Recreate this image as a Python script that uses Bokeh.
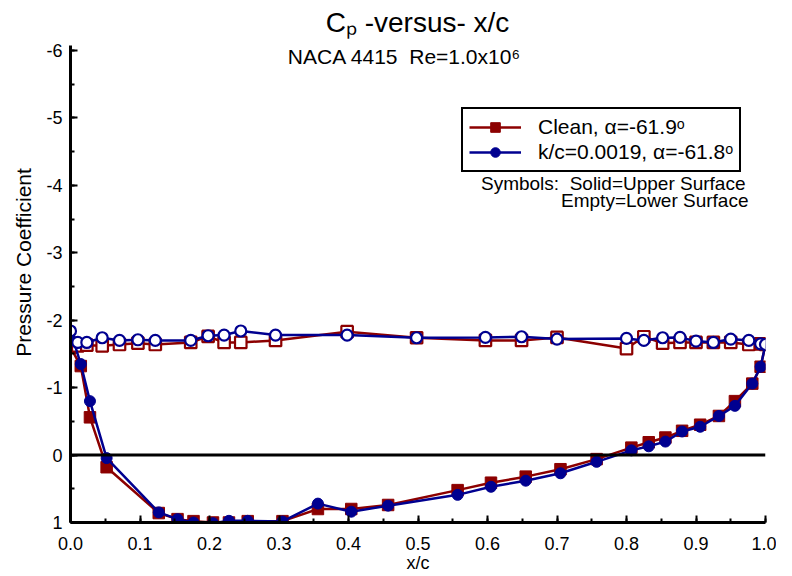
import numpy as np
from bokeh.plotting import figure
from bokeh.models import (Range1d, SingleIntervalTicker, NumeralTickFormatter, Span,
                          Label, Legend, LegendItem)
from bokeh.embed import file_html
from bokeh.resources import INLINE

# ---- data ----
upper_x = [0.0148, 0.028, 0.052, 0.127, 0.154, 0.177, 0.205, 0.228, 0.255, 0.305,
           0.356, 0.404, 0.457, 0.557, 0.605, 0.655, 0.705, 0.757, 0.807, 0.832,
           0.856, 0.880, 0.906, 0.933, 0.956, 0.981, 0.993]
clean_upper = [-1.32, -0.56, 0.18, 0.86, 0.95, 0.98, 1.00, 1.00, 0.98, 0.98,
               0.80, 0.80, 0.74, 0.52, 0.41, 0.32, 0.21, 0.06, -0.11, -0.19,
               -0.26, -0.36, -0.45, -0.58, -0.80, -1.06, -1.31]
rough_upper = [-1.35, -0.80, 0.045, 0.85, 0.95, 1.00, 1.01, 0.975, 0.975, 0.985,
               0.72, 0.84, 0.75, 0.59, 0.47, 0.38, 0.27, 0.10, -0.07, -0.13,
               -0.20, -0.35, -0.42, -0.58, -0.73, -1.06, -1.31]

lower_x = [0.0, 0.0105, 0.0235, 0.0456, 0.0705, 0.097, 0.122, 0.173, 0.198, 0.221,
           0.245, 0.295, 0.398, 0.498, 0.597, 0.649, 0.700, 0.800, 0.825, 0.852,
           0.877, 0.900, 0.925, 0.950, 0.976, 0.993, 1.0]
clean_lower = [-1.60, -1.62, -1.63, -1.62, -1.64, -1.66, -1.64, -1.67, -1.76, -1.67,
               -1.67, -1.70, -1.83, -1.74, -1.70, -1.70, -1.745, -1.58, -1.755, -1.66,
               -1.67, -1.67, -1.67, -1.67, -1.64, -1.65, -1.64]
rough_lower = [-1.84, -1.67, -1.67, -1.74, -1.70, -1.71, -1.70, -1.70, -1.77, -1.78,
               -1.84, -1.78, -1.78, -1.74, -1.745, -1.755, -1.72, -1.73, -1.70, -1.74,
               -1.745, -1.69, -1.67, -1.72, -1.70, -1.65, -1.64]

series_names = ["Clean, \u03b1=-61.9\u1d52", "k/c=0.0019, \u03b1=-61.8\u1d52"]
title_text = "C\u209a -versus- x/c"
subtitle_text = "NACA 4415\u00a0 Re=1.0x10\u2076"
note_lines = ["Symbols:\u00a0 Solid=Upper Surface", "Empty=Lower Surface"]

RED = "#8c0000"
BLUE = "#000090"
FONT = "Liberation Sans"

# y range extends above the axis so the titles can sit inside the frame
p = figure(width=776, height=576, output_backend="svg", toolbar_location=None,
           x_range=Range1d(0, 1), y_range=Range1d(1, -6.712),
           min_border_left=70, min_border_right=11, min_border_top=2, min_border_bottom=54,
           x_axis_label="x/c", y_axis_label="Pressure Coefficient")
p.outline_line_color = None
p.grid.visible = False
p.background_fill_color = "white"

p.xaxis.ticker = SingleIntervalTicker(interval=0.1, num_minor_ticks=2)
p.xaxis.formatter = NumeralTickFormatter(format="0.0")
p.yaxis.ticker = SingleIntervalTicker(interval=1, num_minor_ticks=2)
p.yaxis.formatter = NumeralTickFormatter(format="0")
p.yaxis.bounds = (-6.07, 1.0)

for ax in (p.xaxis[0], p.yaxis[0]):
    ax.axis_line_width = 3
    ax.axis_line_color = "black"
    ax.major_tick_in = 7
    ax.major_tick_out = 0
    ax.minor_tick_in = 4
    ax.minor_tick_out = 0
    ax.major_tick_line_width = 2
    ax.minor_tick_line_width = 2
    ax.major_label_text_font = FONT
    ax.major_label_text_font_size = "18px"
    ax.major_label_text_color = "black"
    ax.axis_label_text_font = FONT
    ax.axis_label_text_font_style = "normal"
    ax.axis_label_text_color = "black"
p.xaxis.axis_label_text_font_size = "18px"
p.yaxis.axis_label_text_font_size = "21px"
p.xaxis.major_label_standoff = 14
p.xaxis.axis_label_standoff = 0
p.yaxis.major_label_standoff = 8
p.yaxis.axis_label_standoff = 8

p.add_layout(Span(location=0, dimension="width", line_color="black", line_width=3))

legend_items = []
for name, up, lo, col, mk in [(series_names[0], clean_upper, clean_lower, RED, "square"),
                              (series_names[1], rough_upper, rough_lower, BLUE, "circle")]:
    lx = np.concatenate([lower_x, upper_x[::-1], lower_x[:1]])
    ly = np.concatenate([lo, up[::-1], lo[:1]])
    ln = p.line(lx, ly, line_color=col, line_width=2.5)
    sz = 11.5 if mk == "square" else 11
    p.scatter(lower_x, lo, marker=mk, size=sz, fill_color="white",
              line_color=col, line_width=2.2)
    su = p.scatter(upper_x, up, marker=mk, size=sz, fill_color=col,
                   line_color=col, line_width=1)
    legend_items.append(LegendItem(label=name, renderers=[ln, su]))

legend = Legend(items=legend_items, location=(391, 350), margin=0, padding=6,
                glyph_width=52, glyph_height=24, label_height=24, spacing=1,
                label_standoff=17,
                label_text_font=FONT, label_text_font_size="21px", label_text_color="black",
                border_line_color="black", border_line_width=2, border_line_alpha=1.0,
                background_fill_color="white", background_fill_alpha=1.0)
p.add_layout(legend)

p.add_layout(Label(x=347, y=500, x_units="screen", y_units="screen", text=title_text,
                   text_align="center", text_baseline="alphabetic",
                   text_font=FONT, text_font_size="28px", text_color="black"))
p.add_layout(Label(x=334, y=466, x_units="screen", y_units="screen", text=subtitle_text,
                   text_align="center", text_baseline="alphabetic",
                   text_font=FONT, text_font_size="21px", text_color="black"))
p.add_layout(Label(x=675, y=339, x_units="screen", y_units="screen", text=note_lines[0],
                   text_align="right", text_baseline="alphabetic",
                   text_font=FONT, text_font_size="19px", text_color="black"))
p.add_layout(Label(x=678, y=322, x_units="screen", y_units="screen", text=note_lines[1],
                   text_align="right", text_baseline="alphabetic",
                   text_font=FONT, text_font_size="19px", text_color="black"))

open("out.html", "w").write(file_html(p, INLINE))
